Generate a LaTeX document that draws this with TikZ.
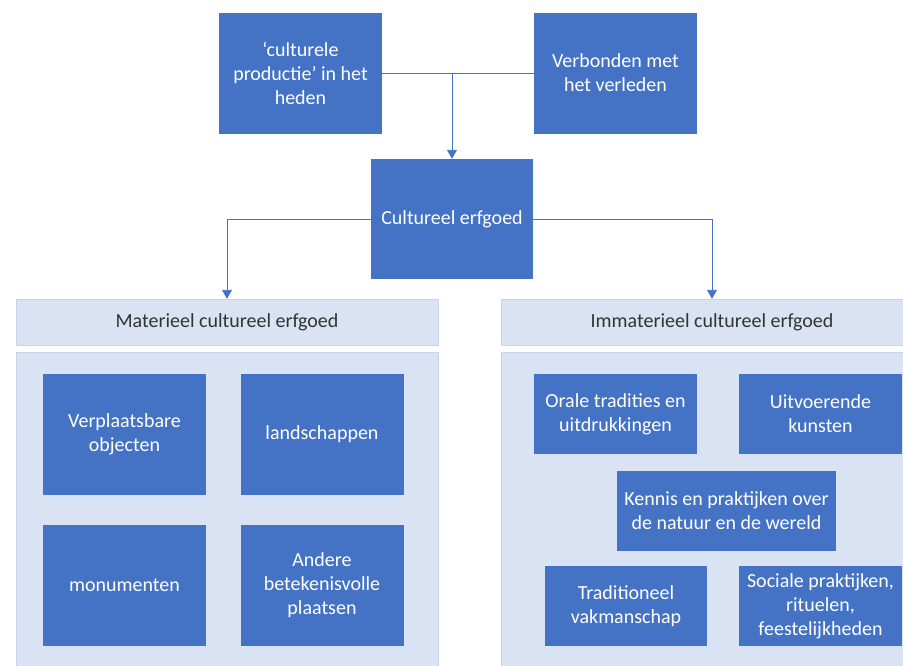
\documentclass[tikz,border=0pt]{standalone}
\usepackage{fontspec}
\setmainfont{Carlito}
\usetikzlibrary{positioning,arrows.meta}
\definecolor{officeblue}{HTML}{4472C4}
\definecolor{paleblue}{HTML}{DAE3F3}
\definecolor{paleedge}{HTML}{C8D3E8}
\tikzset{%
  bluebox/.style={
    rectangle,
    fill=officeblue,
    text=white,
    align=center,
    inner sep=0pt,
    minimum width=163pt,
    minimum height=121pt
  },
  lowbox/.style={
    bluebox,
    minimum height=80pt
  },
  headbar/.style={
    rectangle,
    fill=paleblue,
    draw=paleedge,
    text=black!80,
    inner sep=0pt,
    minimum width=422pt,
    minimum height=46pt
  },
  groupbg/.style={
    rectangle,
    fill=paleblue,
    draw=paleedge,
    inner sep=0pt,
    minimum width=422pt,
    minimum height=330pt
  },
}

\begin{document}
\begin{tikzpicture}[x=1pt,y=-1pt,>={Triangle[width=10pt,length=9pt]},font=\fontsize{20}{24}\selectfont]
        \tikzstyle{link}=[draw=officeblue,line width=0.9pt]
        \useasboundingbox (0,0) rectangle (903,665);

        % top row and the centre box
        \node[bluebox] (prod) at (300.5,73) {‘culturele\\productie’ in het\\heden};
        \node[bluebox] (past) at (615.5,73) {Verbonden met\\het verleden};
        \node[bluebox,minimum width=162pt,minimum height=120pt] (ce) at (452,219) {Cultureel erfgoed};

        % the two groups
        \node[groupbg,anchor=north] (matbg) at (227,352) {};
        \node[groupbg,anchor=north] (immbg) at (712,352) {};
        \node[headbar] (mat) at (227,322) {Materieel cultureel erfgoed};
        \node[headbar] (imm) at (712,322) {Immaterieel cultureel erfgoed};

        % materieel
        \node[bluebox] (verpl) at (124.5,434.5) {Verplaatsbare\\objecten};
        \node[bluebox] (land) at (322,434.5) {landschappen};
        \node[bluebox] (monu) at (124.5,585.5) {monumenten};
        \node[bluebox] (plaats) at (322,585.5) {Andere\\betekenisvolle\\plaatsen};

        % immaterieel
        \node[lowbox] (oraal) at (615.5,414) {Orale tradities en\\uitdrukkingen};
        \node[lowbox] (uitv) at (820.5,414) {Uitvoerende\\kunsten};
        \node[lowbox,minimum width=219pt] (kennis) at (726.5,511) {Kennis en praktijken over\\de natuur en de wereld};
        \node[lowbox,minimum width=162pt] (vak) at (626,606) {Traditioneel\\vakmanschap};
        \node[lowbox] (sociaal) at (820.5,606) {Sociale praktijken,\\rituelen,\\feestelijkheden};

        \draw[link] (prod) -- (past);
        \draw[link,->] (ce.north |- prod.east) -- (ce.north);
        \draw[link,->] (ce.west) -| (mat.north);
        \draw[link,->] (ce.east) -| (imm.north);
    \end{tikzpicture}
\end{document}
